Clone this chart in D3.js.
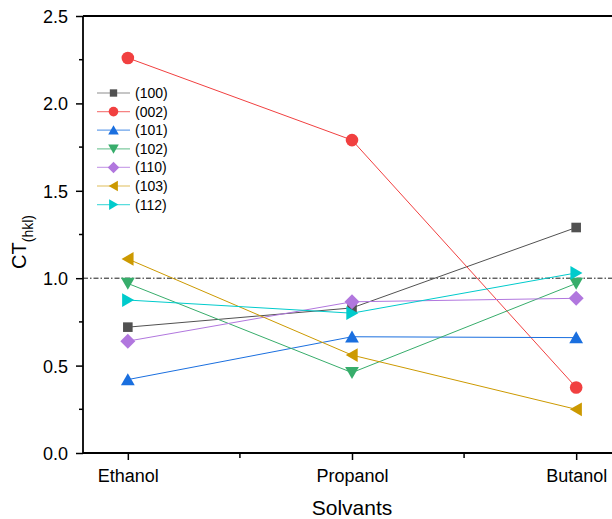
<!DOCTYPE html>
<html><head><meta charset="utf-8">
<script src="https://cdn.jsdelivr.net/npm/d3@7"></script>
<style>body{margin:0;background:#fff}svg{display:block}text{font-family:"Liberation Sans",Arial,sans-serif}</style>
</head><body><svg id="c" width="612" height="519"></svg>
<script>
const categories = ["Ethanol","Propanol","Butanol"];
const seriesNames = ["(100)","(002)","(101)","(102)","(110)","(103)","(112)"];
const s100 = [0.72, 0.83, 1.29];
const s002 = [2.26, 1.79, 0.375];
const s101 = [0.42, 0.665, 0.66];
const s102 = [0.97, 0.46, 0.97];
const s110 = [0.64, 0.865, 0.885];
const s103 = [1.11, 0.56, 0.25];
const s112 = [0.875, 0.80, 1.03];
const yTicks = [0.0, 0.5, 1.0, 1.5, 2.0, 2.5];
const refValue = 1.0;

const seriesValues = [s100, s002, s101, s102, s110, s103, s112];
const colors = ["#515151","#F14040","#1A6FDF","#37AD6B","#B177DE","#CC9900","#00CBCC"];
const shapes = ["square","circle","up","down","diamond","left","right"];

const svg = d3.select("#c");
const L = 83, T = 16, B = 453;
const x = d3.scaleLinear().domain([0.8, 3.2]).range([L, 621]);
const y = d3.scaleLinear().domain([0, 2.5]).range([B, T]);

function markerPath(shape, s) {
  switch (shape) {
    case "square": return `M${-s*0.8},${-s*0.8}h${s*1.6}v${s*1.6}h${-s*1.6}Z`;
    case "circle": return d3.symbol().type(d3.symbolCircle).size(Math.PI*s*s*1.1)();
    case "up": return `M0,${-s*1.05}L${s*1.15},${s*0.95}L${-s*1.15},${s*0.95}Z`;
    case "down": return `M0,${s*1.05}L${s*1.15},${-s*0.95}L${-s*1.15},${-s*0.95}Z`;
    case "left": return `M${-s*1.05},0L${s*0.95},${-s*1.15}L${s*0.95},${s*1.15}Z`;
    case "right": return `M${s*1.05},0L${-s*0.95},${-s*1.15}L${-s*0.95},${s*1.15}Z`;
    case "diamond": return `M0,${-s*1.25}L${s*1.25},0L0,${s*1.25}L${-s*1.25},0Z`;
  }
}

// reference line
svg.append("line").attr("x1", L).attr("x2", 612).attr("y1", y(refValue)).attr("y2", y(refValue))
  .attr("stroke", "#000").attr("stroke-width", 0.9).attr("stroke-dasharray", "5,2,1.5,2");

// series lines
const line = d3.line().x((d,i)=>x(i+1)).y(d=>y(d));
seriesValues.forEach((vals, k) => {
  svg.append("path").attr("d", line(vals)).attr("fill","none")
    .attr("stroke", colors[k]).attr("stroke-width", 1);
});
seriesValues.forEach((vals, k) => {
  vals.forEach((v,i) => {
    svg.append("path").attr("d", markerPath(shapes[k], 6))
      .attr("transform", `translate(${x(i+1)},${y(v)})`).attr("fill", colors[k]);
  });
});

// axes
const yAxis = d3.axisLeft(y).tickValues(yTicks).tickFormat(d3.format(".1f")).tickSize(7).tickPadding(8);
const gy = svg.append("g").attr("transform", `translate(${L},0)`).call(yAxis);
gy.select(".domain").remove();
gy.selectAll("line").attr("stroke-width", 1.5);
gy.selectAll("text").attr("font-size", 18).attr("fill", "#000").attr("dy", "0.36em");
const yMinor = d3.range(0.25, 2.5, 0.5);
svg.selectAll(".ym").data(yMinor).enter().append("line")
  .attr("x1", L-4).attr("x2", L).attr("y1", d=>y(d)).attr("y2", d=>y(d)).attr("stroke","#000").attr("stroke-width",1.5);

const xAxis = d3.axisBottom(x).tickValues([1,2,3]).tickFormat((d)=>categories[d-1]).tickSize(7).tickPadding(5);
const gx = svg.append("g").attr("transform", `translate(0,${B})`).call(xAxis);
gx.select(".domain").remove();
gx.selectAll("line").attr("stroke-width", 1.5);
gx.selectAll("text").attr("font-size", 18).attr("fill", "#000").attr("y", 29).attr("dy", null);
svg.selectAll(".xm").data([1.5, 2.5]).enter().append("line")
  .attr("x1", d=>x(d)).attr("x2", d=>x(d)).attr("y1", B).attr("y2", B+5).attr("stroke","#000").attr("stroke-width",1.5);

// frame lines
svg.append("line").attr("x1", L).attr("x2", L).attr("y1", T).attr("y2", B+0.75).attr("stroke","#000").attr("stroke-width",1.8);
svg.append("line").attr("x1", L).attr("x2", 612).attr("y1", B).attr("y2", B).attr("stroke","#000").attr("stroke-width",1.8);
svg.append("line").attr("x1", L).attr("x2", 612).attr("y1", T).attr("y2", T).attr("stroke","#000").attr("stroke-width",1.8);

// axis titles
svg.append("text").attr("x", 352).attr("y", 515).attr("text-anchor","middle").attr("font-size", 21).text("Solvants");
const yt = svg.append("text").attr("transform", "translate(26,242) rotate(-90)").attr("text-anchor","middle").attr("font-size", 20);
yt.append("tspan").text("CT");
yt.append("tspan").attr("font-size", 14).attr("dy", 7).text("(hkl)");

// legend
const lg = svg.append("g");
seriesNames.forEach((name, k) => {
  const yy = 93 + k*18.6;
  lg.append("line").attr("x1", 97).attr("x2", 130).attr("y1", yy).attr("y2", yy)
    .attr("stroke", colors[k]).attr("stroke-width", 1.2).attr("stroke-opacity", 0.65);
  lg.append("path").attr("d", markerPath(shapes[k], 4.6)).attr("transform", `translate(113.5,${yy})`).attr("fill", colors[k]);
  lg.append("text").attr("x", 135).attr("y", yy+5).attr("font-size", 14).text(name);
});
</script></body></html>
